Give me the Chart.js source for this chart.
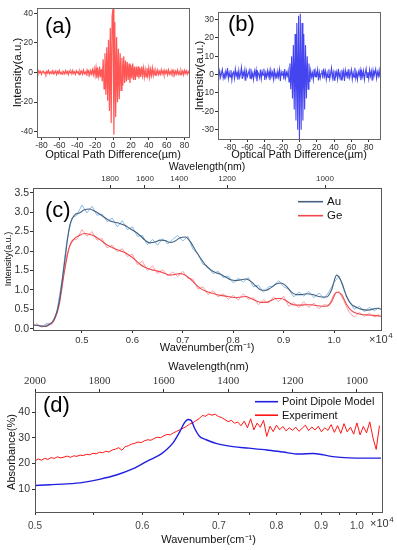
<!DOCTYPE html>
<html>
<head>
<meta charset="utf-8">
<script src="https://cdn.jsdelivr.net/npm/chart.js@4.4.1/dist/chart.umd.min.js"></script>
<style>
  html, body { margin: 0; padding: 0; background: #fff; }
  body { width: 397px; height: 550px; position: relative; overflow: hidden; }
  canvas { position: absolute; }
</style>
</head>
<body>
<canvas id="chartA" width="197" height="165" style="left:0;top:0"></canvas>
<canvas id="chartB" width="209" height="165" style="left:188px;top:0"></canvas>
<canvas id="chartC" width="397" height="200" style="left:0;top:160px"></canvas>
<canvas id="chartD" width="397" height="190" style="left:0;top:360px"></canvas>
<script>
const FONT = "'Liberation Sans', Arial, Helvetica, sans-serif";
const SERIF = "'Liberation Serif', 'Times New Roman', serif";
const INK = '#333';

// (a) interferogram, -85..85 um in 1 um steps
const opdA = Array.from({length: 171}, (_, i) => i - 85);
const intensityA = [
  0.5,-0.8,1.2,-0.3,0.8,-1.1,0.4,1.0,-0.6,0.2,-1.2,0.9,-0.4,1.3,-0.9,0.3,-0.5,1.1,-1.0,0.6,
  -0.2,1.0,-1.3,0.7,-0.6,1.4,-0.8,0.2,-1.1,0.9,0.4,-0.9,1.2,-0.5,0.6,-1.4,1.0,-0.3,0.8,-1.0,
  1.3,-0.7,0.4,-1.2,1.1,-0.2,0.6,-1.5,1.2,-0.4,0.9,-1.1,1.5,-0.8,0.3,-1.3,1.6,-0.6,1.0,-1.7,
  1.2,-0.9,1.8,-1.4,
  2.5,-2.0,3.2,-3.8,1.5,-2.6,4.0,-3.2,2.4,
  -6,9,-11,13,-15,17,-19,
  22,-26,30,-34,38,
  43,
  -42,34,-30,24,-20,
  16,-18,13,-12,10,-9,11,
  -7,8,-6,7,-5,6,-7,5,-4,6,-5,4,-5,
  4,-3,4,-4,3,-3,4,-2,3,-3,2,-3,3,-2,3,-3,2,-2,3,-2,
  1.5,-1.8,1.2,-1.0,1.6,-1.4,0.8,-1.2,1.9,-0.9,1.1,-1.6,1.4,-0.7,1.2,-1.5,1.7,-1.1,0.6,-1.3,
  1.5,-0.8,1.2,-1.7,0.9,-1.0,1.6,-1.2,0.7,-1.4,1.3,-0.9,1.0,-1.5,1.4,-0.6,1.1,-1.2,0.8,-0.9
];
const ticksAx = [-80, -60, -40, -20, 0, 20, 40, 60, 80];
const ticksAy = [-40, -20, 0, 20, 40];

// (b) interferogram, -94..94 um
const opdB = Array.from({length: 189}, (_, i) => i - 94);
const intensityB = [
  1.2,-0.8,2.0,-1.5,0.6,2.8,-1.9,0.4,-2.6,1.7,-0.5,3.5,-2.2,1.0,-1.3,2.4,-3.0,0.8,1.5,-2.1,
  2.9,-0.7,1.1,-2.8,2.2,-1.6,0.3,3.8,-2.4,1.4,-0.9,2.6,-3.3,1.8,-1.1,0.5,2.3,-2.0,3.1,-1.4,
  0.7,-2.7,1.9,-0.6,2.5,-3.6,1.3,0.2,-1.8,2.7,-2.3,1.6,-0.4,3.2,-2.9,0.9,-1.5,2.1,-1.0,1.7,
  -3.1,2.4,-0.8,1.2,-2.5,3.4,-1.7,0.6,-2.2,1.8,-1.2,2.6,-3.4,1.5,-0.3,2.0,-2.6,3.0,-1.9,1.1,
  -0.7,2.2,
  -4,6,-8,10,-13,16,-19,22,-25,28,-30,32,-35,33,-30,28,-25,22,-19,16,-13,10,-8,6,-4,
  2.1,-1.4,0.9,-2.8,3.0,-1.2,1.6,-0.5,2.7,-3.2,1.3,-1.9,0.6,2.4,-2.1,3.3,-0.9,1.8,-2.6,1.0,
  -1.6,2.9,-2.3,0.4,3.6,-1.8,1.2,-3.0,2.2,-0.7,1.5,-2.4,3.1,-1.3,0.8,-2.9,2.6,-1.0,1.9,-3.5,
  2.3,-0.6,1.4,-2.2,3.0,-1.7,0.5,2.8,-2.5,1.1,-1.4,3.7,-2.0,0.9,-2.7,1.6,-0.4,2.5,-3.1,1.7,
  -1.1,2.0,-2.8,0.7,3.2,-1.5,1.3,-2.3,2.6,-0.9,1.8,-3.3,2.2,-1.2,0.6,2.9,-2.0,1.4,-0.8,2.4,
  -1.6,1.0
];
const ticksBy = [-30, -20, -10, 0, 10, 20, 30];

// (c) spectra, wavenumber in cm-1
const waveC = Array.from({length: 70}, (_, i) => 4050 + i * 100);
const auSmooth = [
  0.10,0.08,0.06,0.11,0.25,0.70,1.65,2.60,2.92,2.98,
  3.06,3.08,3.03,2.95,2.86,2.78,2.74,2.71,2.66,2.58,
  2.50,2.40,2.28,2.21,2.23,2.28,2.27,2.22,2.26,2.34,
  2.36,2.24,2.02,1.82,1.64,1.52,1.45,1.40,1.33,1.26,
  1.24,1.26,1.28,1.22,1.10,1.00,0.99,1.06,1.15,1.18,
  1.10,0.95,0.88,0.88,0.90,0.89,0.85,0.82,0.82,1.00,
  1.38,1.20,0.82,0.62,0.55,0.50,0.48,0.50,0.53,0.50
];
const geSmooth = [
  0.10,0.08,0.06,0.10,0.22,0.62,1.45,2.10,2.32,2.40,
  2.45,2.43,2.38,2.30,2.20,2.12,2.06,2.01,1.96,1.88,
  1.78,1.66,1.58,1.53,1.50,1.47,1.42,1.38,1.40,1.42,
  1.38,1.28,1.15,1.04,0.97,0.93,0.89,0.86,0.84,0.82,
  0.80,0.82,0.83,0.78,0.72,0.68,0.68,0.73,0.78,0.78,
  0.72,0.64,0.61,0.61,0.62,0.62,0.60,0.58,0.58,0.70,
  0.94,0.88,0.62,0.46,0.40,0.37,0.36,0.35,0.34,0.32
];
const waveCRaw = Array.from({length: 69}, (_, i) => 4100 + i * 100);
const auRaw = [
  0.12,0.05,0.14,0.12,0.42,1.20,2.25,2.85,2.92,
  3.18,2.98,3.15,2.92,2.95,2.75,2.85,2.62,2.78,2.55,
  2.62,2.38,2.40,2.16,2.30,2.15,2.32,2.18,2.30,2.40,
  2.26,2.38,2.05,1.92,1.66,1.60,1.42,1.48,1.32,1.36,
  1.18,1.30,1.20,1.32,1.08,1.12,0.94,1.08,1.10,1.24,
  1.08,1.02,0.82,0.95,0.84,0.96,0.80,0.92,0.78,0.95,
  1.20,1.35,0.98,0.72,0.50,0.58,0.44,0.55,0.46,0.56
];
const geRaw = [
  0.14,0.04,0.12,0.15,0.38,1.05,1.90,2.28,2.30,
  2.55,2.38,2.50,2.28,2.32,2.08,2.15,1.98,2.06,1.86,
  1.92,1.65,1.74,1.50,1.62,1.42,1.52,1.36,1.46,1.34,
  1.48,1.30,1.28,1.02,1.08,0.88,0.98,0.82,0.90,0.76,
  0.86,0.74,0.90,0.76,0.80,0.62,0.74,0.66,0.82,0.70,
  0.84,0.58,0.68,0.54,0.70,0.55,0.66,0.52,0.62,0.60,
  0.90,0.96,0.70,0.42,0.30,0.42,0.32,0.40,0.30,0.38
];
const cBottomTicks = [5000, 6000, 7000, 8000, 9000, 10000];
const cBottomLabels = ['0.5', '0.6', '0.7', '0.8', '0.9', '1.0'];
// the top wavelength labels sit where the figure puts them (cm-1 on the bottom axis)
const cTopLabels = [1800, 1600, 1400, 1200, 1000];
const cTopAt = [5560, 6250, 6930, 7880, 9820];
const cYTicks = [0, 0.5, 1, 1.5, 2, 2.5, 3, 3.5];

// (d) absorbance against wavelength (nm)
const lambdaModel = [2000,1955,1900,1850,1800,1745,1695,1675,1645,1610,1590,1570,1550,1535,1525,
  1515,1505,1490,1470,1435,1385,1335,1280,1230,1180,1135,1075,1025,970,925];
const absModel = [11.4,11.7,12.0,12.6,13.8,15.6,18.0,19.3,21.3,23.6,25.6,28.3,32.5,36.1,37.2,
  36.9,34.0,30.8,29.4,27.8,26.6,26.0,25.3,24.5,23.7,23.9,22.7,22.2,22.1,22.1];
const lambdaExp = Array.from({length: 108}, (_, i) => 2000 - i * 10);
const absExp = [
  21.0,21.8,21.3,22.0,21.6,22.3,22.0,22.6,22.2,22.5,
  22.9,22.4,23.0,22.8,23.3,23.1,23.6,23.4,24.0,23.8,
  24.4,24.2,24.8,24.5,25.3,25.6,26.2,25.2,26.6,26.9,
  27.6,27.9,28.4,28.2,28.9,29.3,29.1,29.8,30.3,30.1,
  30.8,31.4,31.2,32.0,32.6,33.2,33.8,34.5,35.4,35.9,
  36.8,37.6,38.8,38.5,39.4,38.9,39.3,38.4,38.0,37.2,
  36.4,36.9,35.8,36.2,34.8,36.6,34.0,37.5,33.2,35.8,
  34.2,36.9,30.6,34.6,32.5,35.0,33.2,34.5,32.8,34.0,
  33.0,34.2,32.6,33.8,35.0,32.9,34.3,33.1,34.6,32.4,
  34.0,33.0,35.2,32.2,34.8,31.8,35.6,32.4,34.2,31.5,
  35.9,31.2,34.5,32.0,36.3,30.0,25.5,34.8
];
const dBottomWavenumbers = [5000,5500,6000,6500,7000,7500,8000,8500,9000,9500,10000,10500];
const dBottomLabels = ['0.5','','0.6','','0.7','','0.8','','0.9','','1.0',''];
const dTopLabels = [2000, 1800, 1600, 1400, 1200, 1000];
const dYTicks = [10, 20, 30, 40];

const pts = (xs, ys) => xs.map((x, i) => ({x, y: ys[i]}));
const fixTicks = vals => s => { s.ticks = vals.map(v => ({value: v})); };
const font = (size, family = FONT) => ({family, size});
const tickGrid = {display: true, drawOnChartArea: false, drawTicks: true, tickLength: 3, color: INK};

// frame, panel tag, in-plot legend and the x10^4 exponent
const panelDecor = {
  id: 'panelDecor',
  afterDraw(chart, args, opts) {
    const {ctx, chartArea: a} = chart;
    ctx.save();
    ctx.strokeStyle = opts.frame || '#444';
    ctx.lineWidth = 1;
    ctx.strokeRect(Math.round(a.left) + 0.5, Math.round(a.top) + 0.5,
      Math.round(a.right - a.left), Math.round(a.bottom - a.top));

    ctx.fillStyle = '#000';
    ctx.font = `22px ${FONT}`;
    ctx.textBaseline = 'alphabetic';
    ctx.fillText(opts.tag, opts.tagX, opts.tagY);

    (opts.legend || []).forEach((item, k) => {
      const ds = chart.data.datasets[item];
      const y = opts.legendY + k * opts.legendGap;
      ctx.strokeStyle = ds.borderColor;
      ctx.lineWidth = 1.6;
      ctx.beginPath();
      ctx.moveTo(opts.legendX, y);
      ctx.lineTo(opts.legendX + opts.legendLen, y);
      ctx.stroke();
      ctx.fillStyle = '#111';
      ctx.font = `${opts.legendSize}px ${FONT}`;
      ctx.textBaseline = 'middle';
      ctx.fillText(ds.label, opts.legendX + opts.legendLen + 4, y + 0.5);
    });

    if (opts.expX) {
      ctx.fillStyle = INK;
      ctx.textBaseline = 'alphabetic';
      ctx.font = `11px ${FONT}`;
      ctx.fillText('\u00d710', opts.expX, opts.expY);
      const w = ctx.measureText('\u00d710').width;
      ctx.font = `8px ${FONT}`;
      ctx.fillText('4', opts.expX + w + 0.5, opts.expY - 5);
    }
    ctx.restore();
  }
};

const makeChart = (id, datasets, scales, padding, decor) => new Chart(document.getElementById(id), {
  type: 'line',
  data: {datasets},
  options: {
    responsive: false,
    animation: false,
    devicePixelRatio: 1,
    layout: {padding},
    elements: {point: {radius: 0}},
    plugins: {legend: {display: false}, tooltip: {enabled: false}, panelDecor: decor},
    scales
  },
  plugins: [panelDecor]
});

const interferogramScales = (range, yRange, xTicks, yTicks, xH, yW, yTitlePad) => ({
  x: {
    type: 'linear', min: range[0], max: range[1],
    afterBuildTicks: fixTicks(xTicks),
    afterFit: s => { s.height = xH; },
    grid: tickGrid, border: {display: false},
    ticks: {font: font(8.5), color: INK, padding: 1, maxRotation: 0, autoSkip: false},
    title: {display: true, text: 'Optical Path Difference(\u00b5m)', font: font(11), color: '#111',
      padding: {top: 0, bottom: 3}}
  },
  y: {
    min: yRange[0], max: yRange[1],
    afterBuildTicks: fixTicks(yTicks),
    afterFit: s => { s.width = yW; },
    grid: tickGrid, border: {display: false},
    ticks: {font: font(8.5), color: INK, padding: 1},
    title: {display: true, text: 'Intensity(a.u.)', font: font(11.5), color: '#111',
      padding: {top: yTitlePad, bottom: 0}}
  }
});

makeChart('chartA',
  [{label: 'a', data: pts(opdA, intensityA), borderColor: '#ff5656', borderWidth: 1.2, tension: 0}],
  interferogramScales([-85, 85], [-43.5, 43.5], ticksAx, ticksAy, 28, 37, 11),
  {top: 8, right: 8, left: 0, bottom: 0},
  {tag: '(a)', tagX: 45, tagY: 33, frame: '#666'});

makeChart('chartB',
  [{label: 'b', data: pts(opdB, intensityB), borderColor: '#4545f0', borderWidth: 1.1, tension: 0}],
  interferogramScales([-94, 93], [-35, 34], ticksAx, ticksBy, 26, 30, 4.5),
  {top: 12, right: 17, left: 0, bottom: 0},
  {tag: '(b)', tagX: 40, tagY: 31, frame: '#666'});

makeChart('chartC',
  [
    {label: 'Au', data: pts(waveC, auSmooth), borderColor: '#46607e', borderWidth: 1.1, cubicInterpolationMode: 'monotone'},
    {label: 'Ge', data: pts(waveC, geSmooth), borderColor: '#f0474c', borderWidth: 1.1, cubicInterpolationMode: 'monotone'},
    {label: 'Au raw', data: pts(waveCRaw, auRaw), borderColor: '#86bde6', borderWidth: 1, tension: 0},
    {label: 'Ge raw', data: pts(waveCRaw, geRaw), borderColor: '#f6a3a6', borderWidth: 1, tension: 0}
  ],
  {
    x: {
      type: 'linear', min: 4030, max: 10930,
      afterBuildTicks: fixTicks(cBottomTicks),
      afterFit: s => { s.height = 30; },
      grid: tickGrid, border: {display: false},
      ticks: {font: font(9.5), color: INK, padding: 2, maxRotation: 0, autoSkip: false,
        callback: (v, i) => cBottomLabels[i]},
      title: {display: true, text: 'Wavenumber(cm\u207b\u00b9)', font: font(11), color: '#111',
        padding: {top: 0, bottom: 5}}
    },
    xTop: {
      type: 'linear', position: 'top', min: 4030, max: 10930,
      afterBuildTicks: fixTicks(cTopAt),
      afterFit: s => { s.height = 28; },
      grid: tickGrid, border: {display: false},
      ticks: {font: font(8), color: INK, padding: 1, maxRotation: 0, autoSkip: false,
        callback: (v, i) => String(cTopLabels[i])},
      title: {display: true, text: 'Wavelength(nm)', font: font(10.5), color: '#111',
        padding: {top: 1, bottom: 0}}
    },
    y: {
      min: -0.03, max: 3.62,
      afterBuildTicks: fixTicks(cYTicks),
      afterFit: s => { s.width = 33; },
      grid: tickGrid, border: {display: false},
      ticks: {font: font(10.5), color: INK, padding: 1, callback: v => v.toFixed(1)},
      title: {display: true, text: 'Intensity(a.u.)', font: font(9), color: '#111',
        padding: {top: 3, bottom: 0}}
    }
  },
  {top: 0, right: 16, left: 0, bottom: 0},
  {tag: '(c)', tagX: 45, tagY: 56.5, frame: '#555',
   legend: [0, 1], legendX: 298, legendY: 41.7, legendGap: 14, legendLen: 25, legendSize: 11.5,
   expX: 369, expY: 183});

makeChart('chartD',
  [
    {label: 'Point Dipole Model', data: pts(lambdaModel, absModel), borderColor: '#1f1fe0', borderWidth: 1.4, cubicInterpolationMode: 'monotone'},
    {label: 'Experiment', data: pts(lambdaExp, absExp), borderColor: '#ff1414', borderWidth: 1, tension: 0}
  ],
  {
    x: {
      type: 'linear', reverse: true, min: 922, max: 2000,
      afterBuildTicks: s => { s.ticks = dBottomWavenumbers.map(n => ({value: 1e7 / n})); },
      afterFit: s => { s.height = 38; },
      grid: tickGrid, border: {display: false},
      ticks: {font: font(10), color: '#444', padding: 5, maxRotation: 0, autoSkip: false,
        callback: (v, i) => dBottomLabels[i]},
      title: {display: true, text: 'Wavenumber(cm\u207b\u00b9)', font: font(11), color: '#111',
        padding: {top: 0, bottom: 3.4}}
    },
    xTop: {
      type: 'linear', position: 'top', reverse: true, min: 922, max: 2000,
      afterBuildTicks: fixTicks(dTopLabels),
      afterFit: s => { s.height = 32; },
      grid: tickGrid, border: {display: false},
      ticks: {font: font(11, SERIF), color: INK, padding: 1, maxRotation: 0, autoSkip: false,
        callback: v => String(v)},
      title: {display: true, text: 'Wavelength(nm)', font: font(11), color: '#111',
        padding: {top: 0, bottom: 0}}
    },
    y: {
      min: 1, max: 48,
      afterBuildTicks: fixTicks(dYTicks),
      afterFit: s => { s.width = 35; },
      grid: tickGrid, border: {display: false},
      ticks: {font: font(10.5), color: INK, padding: 2},
      title: {display: true, text: 'Absorbance(%)', font: font(11), color: '#111',
        padding: {top: 5, bottom: 0}}
    }
  },
  {top: 0, right: 15, left: 0, bottom: 0},
  {tag: '(d)', tagX: 43, tagY: 52, frame: '#555',
   legend: [0, 1], legendX: 255, legendY: 41.7, legendGap: 13.5, legendLen: 23, legendSize: 11,
   expX: 370, expY: 167});
</script>
</body>
</html>
